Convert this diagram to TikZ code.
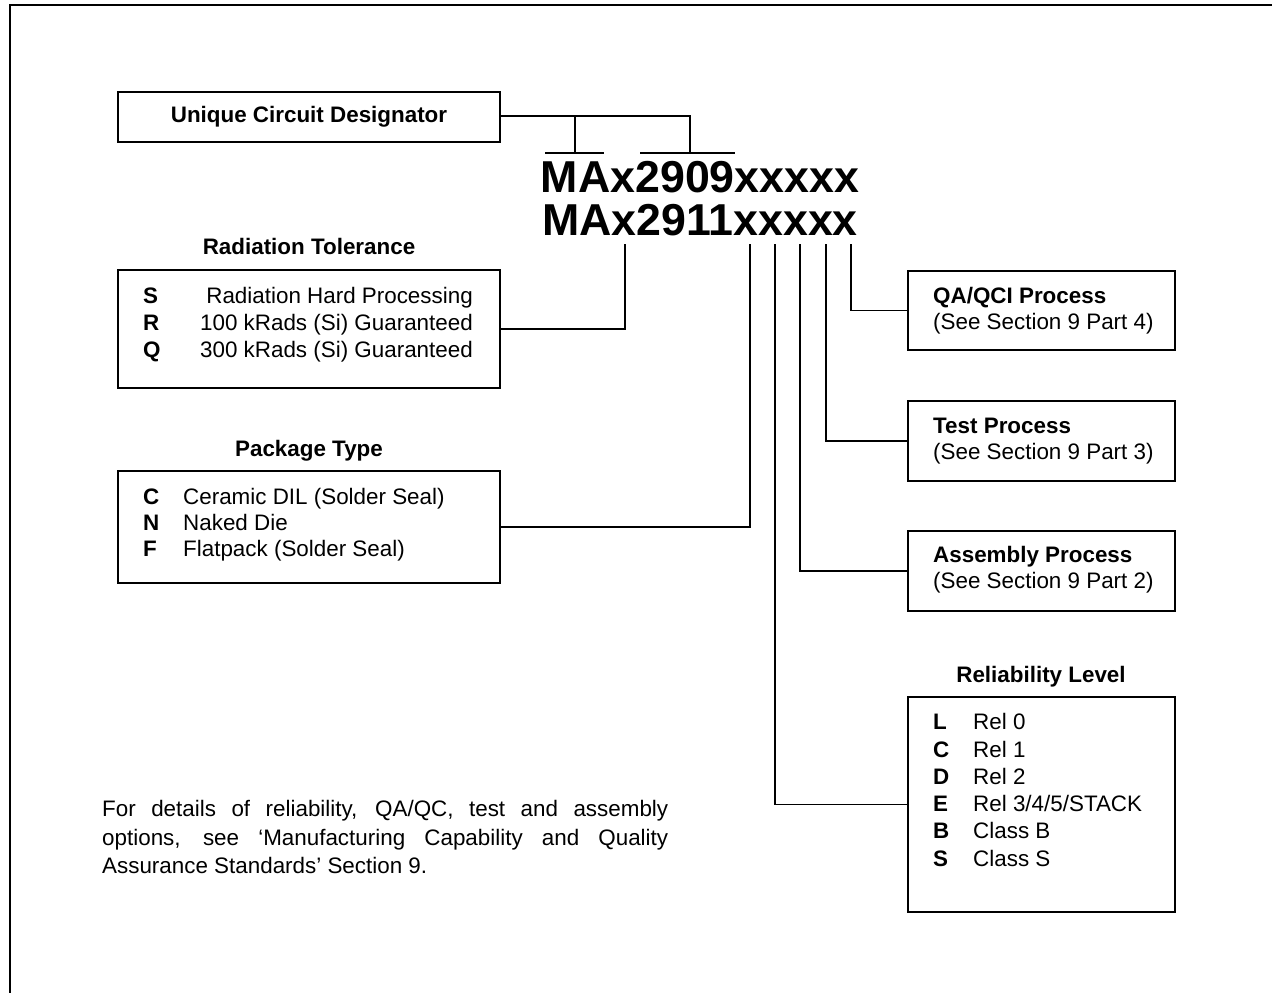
\documentclass[tikz,border=0pt]{standalone}
\usepackage{fontspec}
\setmainfont{Liberation Sans}
\begin{document}
\begin{tikzpicture}[x=1pt,y=-1pt,
  box/.style={draw, line width=2.2pt, inner sep=0pt},
  conn/.style={draw, line width=1.1pt},
  frameline/.style={draw, line width=1.6pt},
  txt/.style={inner sep=0pt, font=\fontsize{22.4}{27}\selectfont},
  btxt/.style={inner sep=0pt, font=\fontsize{22.4}{27}\selectfont\bfseries},
  big/.style={inner sep=0pt, font=\fontsize{44.7}{43}\selectfont\bfseries}]
\useasboundingbox (0,0) rectangle (1272,993);
\fill[white] (0,0) rectangle (1272,993);
% outer frame (left and top edges)
\draw[frameline] (10,993) -- (10,5) -- (1272,5);

% Unique circuit designator
\node[box, minimum width=382pt, minimum height=50pt, font=\fontsize{22.4}{27}\selectfont\bfseries] (ucd) at (309,117) {Unique Circuit Designator};

% part numbers
\node[big, anchor=base] (pnA) at (700,192) {MAx2909xxxxx};
\node[big, anchor=base] (pnB) at (700,235) {MAx2911xxxxx};

% designator brackets
\coordinate (ucdR) at (690,116);
\coordinate (ucdL) at (575,116);
\coordinate (ucdLb) at (575,153);
\coordinate (ucdRb) at (690,153);
\coordinate (barA1) at (545,153);
\coordinate (barA2) at (604,153);
\coordinate (barB1) at (640,153);
\coordinate (barB2) at (735,153);
\draw[conn] (ucd.east |- ucdR) -- (ucdR) -- (ucdRb);
\draw[conn] (ucdL) -- (ucdLb);
\draw[conn] (barA1) -- (barA2);
\draw[conn] (barB1) -- (barB2);

% Radiation tolerance
\node[btxt, anchor=base] (radT) at (309,254) {Radiation Tolerance};
\node[box, minimum width=382pt, minimum height=118pt] (rad) at (309,329) {};
\node[btxt, anchor=base west] (radS) at (143,303) {S};
\node[btxt, anchor=base west] (radR) at (143,330) {R};
\node[btxt, anchor=base west] (radQ) at (143,357) {Q};
\node[txt, anchor=base east] (radSd) at (473,303) {Radiation Hard Processing};
\node[txt, anchor=base east] (radRd) at (473,330) {100 kRads (Si) Guaranteed};
\node[txt, anchor=base east] (radQd) at (473,357) {300 kRads (Si) Guaranteed};

% Package type
\node[btxt, anchor=base] (pkgT) at (309,456) {Package Type};
\node[box, minimum width=382pt, minimum height=112pt] (pkg) at (309,527) {};
\node[btxt, anchor=base west] (pkgC) at (143,504) {C};
\node[btxt, anchor=base west] (pkgN) at (143,530) {N};
\node[btxt, anchor=base west] (pkgF) at (143,556) {F};
\node[txt, anchor=base west] (pkgCd) at (183,504) {Ceramic DIL (Solder Seal)};
\node[txt, anchor=base west] (pkgNd) at (183,530) {Naked Die};
\node[txt, anchor=base west] (pkgFd) at (183,556) {Flatpack (Solder Seal)};

% QA/QCI
\node[box, minimum width=267pt, minimum height=79pt] (qa) at (1041.5,310.5) {};
\node[btxt, anchor=base west] (qaT) at (933,303) {QA/QCI Process};
\node[txt, anchor=base west] (qaS) at (933,329) {(See Section 9 Part 4)};

% Test
\node[box, minimum width=267pt, minimum height=80pt] (tst) at (1041.5,441) {};
\node[btxt, anchor=base west] (tstT) at (933,433) {Test Process};
\node[txt, anchor=base west] (tstS) at (933,459) {(See Section 9 Part 3)};

% Assembly
\node[box, minimum width=267pt, minimum height=80pt] (asm) at (1041.5,571) {};
\node[btxt, anchor=base west] (asmT) at (933,562) {Assembly Process};
\node[txt, anchor=base west] (asmS) at (933,588) {(See Section 9 Part 2)};

% Reliability
\node[btxt, anchor=base] (relT) at (1041,682) {Reliability Level};
\node[box, minimum width=267pt, minimum height=215pt] (rel) at (1041.5,804.5) {};
\node[btxt, anchor=base west] (relL) at (933,729) {L};
\node[btxt, anchor=base west] (relC) at (933,757) {C};
\node[btxt, anchor=base west] (relD) at (933,784) {D};
\node[btxt, anchor=base west] (relE) at (933,811) {E};
\node[btxt, anchor=base west] (relB) at (933,838) {B};
\node[btxt, anchor=base west] (relS) at (933,866) {S};
\node[txt, anchor=base west] (relLd) at (973,729) {Rel 0};
\node[txt, anchor=base west] (relCd) at (973,757) {Rel 1};
\node[txt, anchor=base west] (relDd) at (973,784) {Rel 2};
\node[txt, anchor=base west] (relEd) at (973,811) {Rel 3/4/5/STACK};
\node[txt, anchor=base west] (relBd) at (973,838) {Class B};
\node[txt, anchor=base west] (relSd) at (973,866) {Class S};

% connector tops under the part number
\coordinate (tRad) at (625,244);
\coordinate (tPkg) at (750,244);
\coordinate (tRel) at (775,244);
\coordinate (tAsm) at (800,244);
\coordinate (tTst) at (826,244);
\coordinate (tQa) at (851,244);
\draw[conn] (rad.east) -| (tRad);
\draw[conn] (pkg.east) -| (tPkg);
\draw[conn] (rel.west) -| (tRel);
\draw[conn] (asm.west) -| (tAsm);
\draw[conn] (tst.west) -| (tTst);
\draw[conn] (qa.west) -| (tQa);

% footnote
\node[txt, anchor=base west] (fn1) at (102,816) {\makebox[566pt][s]{For details of reliability, QA/QC, test and assembly}};
\node[txt, anchor=base west] (fn2) at (102,845) {\makebox[566pt][s]{options, see ‘Manufacturing Capability and Quality}};
\node[txt, anchor=base west] (fn3) at (102,873) {Assurance Standards’ Section 9.};
\end{tikzpicture}
\end{document}
